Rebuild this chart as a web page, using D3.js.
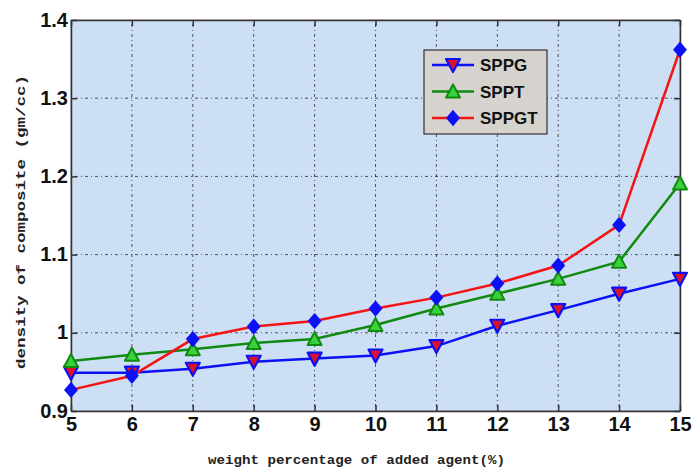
<!DOCTYPE html>
<html><head><meta charset="utf-8">
<script src="https://cdn.jsdelivr.net/npm/d3@7/dist/d3.min.js"></script>
<style>body{margin:0;background:#fff} text.pre{white-space:pre}</style>
</head><body>
<svg id="c" width="694" height="468"></svg>
<script>
const xValues = [5,6,7,8,9,10,11,12,13,14,15];
const sppg  = [0.949,0.949,0.954,0.963,0.967,0.971,0.983,1.009,1.029,1.050,1.069];
const sppt  = [0.964,0.972,0.979,0.987,0.992,1.010,1.031,1.050,1.069,1.091,1.191];
const sppgt = [0.927,0.945,0.992,1.008,1.015,1.031,1.045,1.063,1.086,1.138,1.362];
const xTicks = [5,6,7,8,9,10,11,12,13,14,15];
const yTicks = [0.9,1,1.1,1.2,1.3,1.4];
const seriesNames = ["SPPG","SPPT","SPPGT"];

const svg = d3.select("#c");
const L=71, R=680, T=20, B=411;
const x = d3.scaleLinear().domain([5,15]).range([L,R]);
const y = d3.scaleLinear().domain([0.9,1.4]).range([B,T]);
const tickFont = "'Liberation Sans Narrow','Arial Narrow','Liberation Sans',Arial,sans-serif";

svg.append("rect").attr("x",L).attr("y",T).attr("width",R-L).attr("height",B-T)
  .attr("fill","#cddff5").attr("stroke","#888").attr("stroke-width",1);

// grid
const g = svg.append("g");
g.selectAll(".vg").data(xTicks.slice(1,-1)).join("line")
  .attr("x1",d=>x(d)).attr("x2",d=>x(d)).attr("y1",T).attr("y2",B)
  .attr("stroke","#222").attr("stroke-width",1).attr("stroke-dasharray","1,3,3,3").attr("opacity",0.75);
g.selectAll(".hg").data(yTicks.slice(1,-1)).join("line")
  .attr("x1",L).attr("x2",R).attr("y1",d=>y(d)).attr("y2",d=>y(d))
  .attr("stroke","#222").attr("stroke-width",1).attr("stroke-dasharray","1,3,3,3").attr("opacity",0.75);

// axes
const xa = svg.append("g").attr("transform",`translate(0,${B})`)
  .call(d3.axisBottom(x).tickValues(xTicks).tickFormat(d3.format("d")).tickSizeInner(-6).tickSizeOuter(0).tickPadding(4));
const ya = svg.append("g").attr("transform",`translate(${L},0)`)
  .call(d3.axisLeft(y).tickValues(yTicks).tickFormat(d=>d===1?"1":d3.format(".1f")(d)).tickSizeInner(-6).tickSizeOuter(0).tickPadding(3));
const ya2 = svg.append("g").attr("transform",`translate(${R},0)`)
  .call(d3.axisRight(y).tickValues(yTicks).tickFormat("").tickSizeInner(-6).tickSizeOuter(0));
const xa2 = svg.append("g").attr("transform",`translate(0,${T})`)
  .call(d3.axisTop(x).tickValues(xTicks).tickFormat("").tickSizeInner(-6).tickSizeOuter(0));
[xa,ya,ya2,xa2].forEach(a=>{
  a.selectAll("path").attr("stroke","#333").attr("stroke-width",1.5);
  a.selectAll("line").attr("stroke","#333").attr("stroke-width",1.5);
  a.selectAll("text").attr("fill","#111").style("font-family",tickFont)
   .style("font-weight","bold").style("font-size","20px");
});
xa.selectAll("text").attr("dy","0.8em");
ya.selectAll("text").attr("dy","0.3em");

// lines
const line = d3.line().x((d,i)=>x(xValues[i])).y(d=>y(d));
const series = [
  {name:"SPPG", data:sppg, color:"#0a12f5"},
  {name:"SPPT", data:sppt, color:"#118a11"},
  {name:"SPPGT", data:sppgt, color:"#f41414"}
];
series.forEach(s=>{
  svg.append("path").attr("d",line(s.data)).attr("fill","none").attr("stroke",s.color).attr("stroke-width",2.5);
});

function marker(sel, type, cx, cy){
  if(type==="SPPG"){
    sel.append("path").attr("d",`M${cx-7},${cy-6}L${cx+7},${cy-6}L${cx},${cy+7}Z`)
      .attr("fill","#e0102a").attr("stroke","#0a12f5").attr("stroke-width",2.2).attr("stroke-linejoin","round");
  } else if(type==="SPPT"){
    sel.append("path").attr("d",`M${cx-7},${cy+6}L${cx+7},${cy+6}L${cx},${cy-7}Z`)
      .attr("fill","#3ad23a").attr("stroke","#118a11").attr("stroke-width",2).attr("stroke-linejoin","round");
  } else {
    sel.append("path").attr("d",`M${cx},${cy-7}L${cx+6},${cy}L${cx},${cy+7}L${cx-6},${cy}Z`)
      .attr("fill","#0a12f5").attr("stroke","#0a12f5").attr("stroke-width",1.5);
  }
}
series.forEach(s=>{
  const mg = svg.append("g");
  s.data.forEach((v,i)=>marker(mg,s.name,x(xValues[i]),y(v)));
});

// legend
const lg = svg.append("g");
lg.append("rect").attr("x",424).attr("y",50).attr("width",123).attr("height",84)
  .attr("fill","#d6d3ce").attr("stroke","#333").attr("stroke-width",1.2);
series.forEach((s,i)=>{
  const ly = 65 + i*26.5;
  lg.append("line").attr("x1",432).attr("x2",474).attr("y1",ly).attr("y2",ly).attr("stroke",s.color).attr("stroke-width",2.5);
  marker(lg,s.name,453,ly);
  lg.append("text").attr("x",480).attr("y",ly).attr("dy","0.36em").text(seriesNames[i])
    .style("font-family","'Liberation Sans',Arial,sans-serif").style("font-weight","bold").style("font-size","17px").attr("fill","#111");
});

// axis titles
svg.append("text").attr("class","pre").attr("x",208).attr("y",464)
  .attr("textLength",297).attr("lengthAdjust","spacingAndGlyphs")
  .text("weight percentage of added agent(%)")
  .style("font-family","'Liberation Mono','DejaVu Sans Mono',monospace").style("font-weight","bold").style("font-size","13px").attr("fill","#222");
svg.append("text").attr("transform",`translate(25,369) rotate(-90)`)
  .attr("textLength",294).attr("lengthAdjust","spacingAndGlyphs")
  .text("density of composite (gm/cc)")
  .style("font-family","'Liberation Mono','DejaVu Sans Mono',monospace").style("font-weight","bold").style("font-size","13.5px").attr("fill","#222");
</script>
</body></html>
